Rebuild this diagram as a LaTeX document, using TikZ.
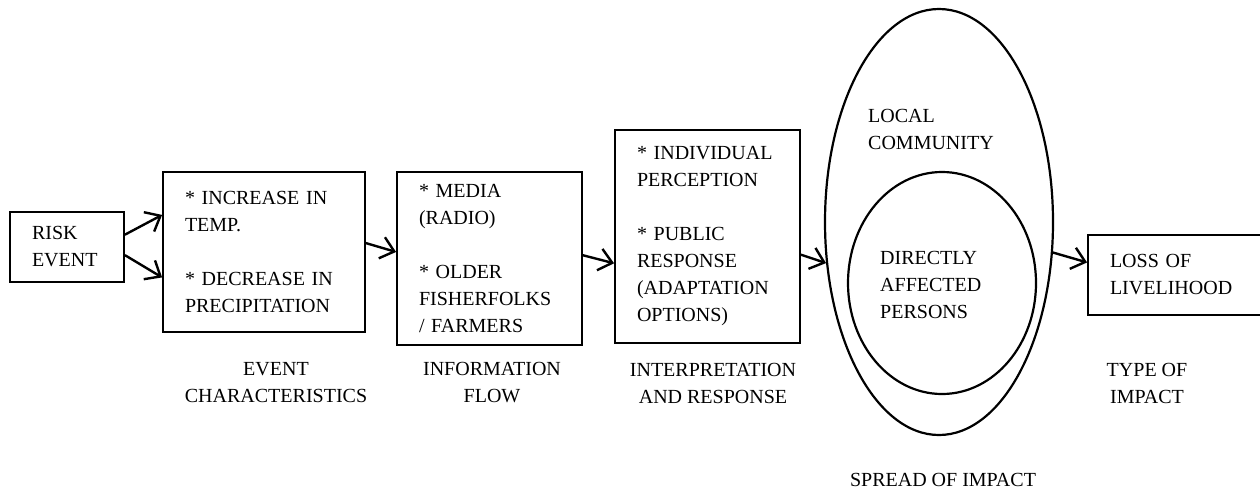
\documentclass[tikz,border=0pt]{standalone}
\usepackage{fontspec}
\setmainfont{Liberation Serif}
\usetikzlibrary{shapes.geometric,arrows.meta}

\begin{document}
\begin{tikzpicture}[x=1pt,y=-1pt,font=\fontsize{20}{27}\selectfont]
    \tikzstyle{stage}=[draw,line width=1.8pt,inner xsep=22pt,inner ysep=0pt,align=left]
    \tikzstyle{caption}=[align=center,inner sep=0pt]
    \tikzstyle{spread}=[draw,ellipse,line width=2.2pt,inner sep=0pt]
    \tikzstyle{flow}=[line width=2.4pt,-{Straight Barb[length=13pt,width=22pt]}]
    \useasboundingbox (0,0) rectangle (1260,488);
    \clip (0,0) rectangle (1260,488);
    \draw node[stage,text width=70pt,minimum height=70pt](risk)at(67,247){RISK\\EVENT}
          node[stage,text width=158pt,minimum height=160pt](event)at(264,252){* INCREASE IN\\TEMP.\\[27pt]* DECREASE IN\\PRECIPITATION}
          node[stage,text width=141pt,minimum height=173pt](info)at(489.5,258.5){* MEDIA\\(RADIO)\\[27pt]* OLDER\\FISHERFOLKS\\/ FARMERS}
          node[stage,text width=141pt,minimum height=213pt](interp)at(707.5,236.5){* INDIVIDUAL\\PERCEPTION\\[27pt]* PUBLIC\\RESPONSE\\(ADAPTATION\\OPTIONS)}
          node[stage,text width=133pt,minimum height=80pt](loss)at(1176.5,275){LOSS OF\\LIVELIHOOD};
    \draw node[spread,minimum width=228pt,minimum height=426pt](community)at(939,222){}
          node[spread,minimum width=188pt,minimum height=222pt](affected)at(942,283){};
    \node[anchor=west,align=left,inner sep=0pt](local)at(868,129){LOCAL\\COMMUNITY};
    \node[anchor=west,align=left,inner sep=0pt](direct)at(880,285){DIRECTLY\\AFFECTED\\PERSONS};
    % stage captions
    \node[caption](evtcap)at(276,383){EVENT\\CHARACTERISTICS};
    \node[caption](infocap)at(492,383){INFORMATION\\FLOW};
    \node[caption](interpcap)at(713,383){INTERPRETATION\\AND RESPONSE};
    \node[caption](typecap)at(1147,383){TYPE OF\\IMPACT};
    \node[anchor=base,inner sep=0pt](spreadcap)at(943,486){SPREAD OF IMPACT};
    \draw[flow](risk.12)--(event.160);
    \draw[flow](risk.-8)--(event.194);
    \draw[flow](event.5)--(info.176);
    \draw[flow](info.2)--(interp.196);
    \draw[flow](interp.-11)--(community.200);
    \draw[flow](community.-15)--(loss.172);
\end{tikzpicture}
\end{document}
